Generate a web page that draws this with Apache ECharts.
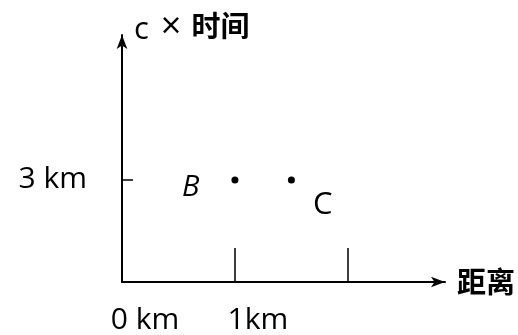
<!DOCTYPE html>
<html>
<head>
<meta charset="utf-8">
<script src="https://cdn.jsdelivr.net/npm/echarts@6/dist/echarts.min.js"></script>
<style>
  html, body { margin: 0; padding: 0; background: #fff; }
  #chart { width: 518px; height: 335px; }
</style>
</head>
<body>
<div id="chart"></div>
<script>
// Points on the distance / (c × time) plane
const pointNames = ['B', 'C'];
const pointX = [1, 1.5];   // distance, km
const pointY = [3, 3];     // c × time, km

// Axis ticks and their labels
const xTickValues = [1, 2];
const xLabelValues = [0, 1];
const xLabelTexts = ['0 km', '1km'];
const yTickValues = [3];
const yLabelTexts = ['3 km'];

const xAxisName = '距离';
const yAxisName = ['c', '×', '时间'];

const ink = '#000';
const latin = "'Open Sans', 'Noto Sans', sans-serif";
const cjk = "'Noto Sans CJK SC', 'Open Sans', sans-serif";

// per-point label placement
const pointLabelLayout = [
  { position: 'left', distance: 32, offset: [0, 8], italic: true, size: 29 },
  { position: 'right', distance: 18, offset: [0, 25], italic: false, size: 31 }
];

const chart = echarts.init(document.getElementById('chart'));

chart.setOption({
  animation: false,
  grid: { left: 122, right: 73, top: 35, bottom: 53 },
  xAxis: {
    type: 'value',
    min: 0,
    max: 2.86,
    interval: 1,
    splitLine: { show: false },
    name: xAxisName,
    nameLocation: 'end',
    nameGap: 12,
    nameTextStyle: { fontFamily: cjk, fontSize: 29, fontWeight: 'bold', color: ink },
    axisLine: { lineStyle: { color: ink, width: 2 }, symbol: ['none', 'arrow'], symbolSize: [8, 14] },
    axisTick: { show: true, inside: true, length: 34, customValues: xTickValues, lineStyle: { color: ink, width: 1.5 } },
    axisLabel: {
      customValues: xLabelValues,
      margin: 23,
      fontSize: 30,
      fontFamily: latin,
      color: ink,
      padding: [0, 0, 0, 46],
      formatter: v => {
        const i = xLabelValues.indexOf(v);
        return i < 0 ? '' : xLabelTexts[i];
      }
    }
  },
  yAxis: {
    type: 'value',
    min: 0,
    max: 7.26,
    interval: 1,
    splitLine: { show: false },
    name: '{c|' + yAxisName[0] + '}{x|' + yAxisName[1] + '}{t|' + yAxisName[2] + '}',
    nameLocation: 'end',
    nameGap: 9,
    nameTextStyle: {
      align: 'left', verticalAlign: 'middle', padding: [0, 0, 0, 12],
      rich: {
        c: { fontFamily: latin, fontSize: 31, color: ink, verticalAlign: 'bottom', lineHeight: 34 },
        x: { fontFamily: latin, fontSize: 36, color: ink, padding: [0, 10, 0, 12], verticalAlign: 'bottom', lineHeight: 26 },
        t: { fontFamily: cjk, fontSize: 29, fontWeight: 'bold', color: ink, verticalAlign: 'middle', lineHeight: 40 }
      }
    },
    axisLine: { lineStyle: { color: ink, width: 2 }, symbol: ['none', 'arrow'], symbolSize: [8, 14] },
    axisTick: { show: true, inside: true, length: 11, customValues: yTickValues, lineStyle: { color: ink, width: 1.5 } },
    axisLabel: {
      customValues: yTickValues,
      margin: 35,
      fontSize: 30,
      fontFamily: latin,
      color: ink,
      formatter: v => {
        const i = yTickValues.indexOf(v);
        return i < 0 ? '' : yLabelTexts[i];
      }
    }
  },
  series: [{
    type: 'scatter',
    symbolSize: 7,
    itemStyle: { color: ink, opacity: 1 },
    data: pointNames.map((n, i) => ({
      name: n,
      value: [pointX[i], pointY[i]],
      label: {
        show: true,
        formatter: n,
        position: pointLabelLayout[i].position,
        distance: pointLabelLayout[i].distance,
        offset: pointLabelLayout[i].offset,
        fontSize: pointLabelLayout[i].size,
        fontStyle: pointLabelLayout[i].italic ? 'italic' : 'normal',
        fontFamily: latin,
        color: ink
      }
    }))
  }]
});
</script>
</body>
</html>
